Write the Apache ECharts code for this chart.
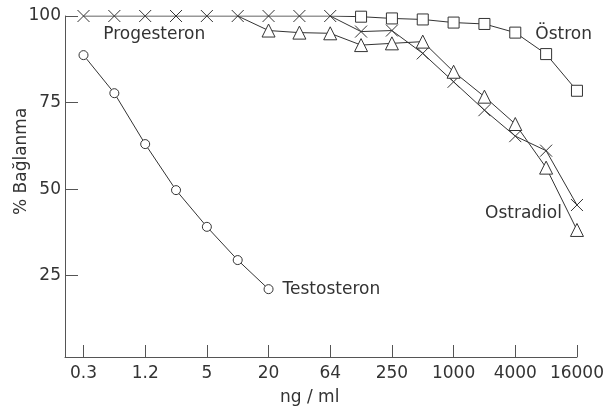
<!DOCTYPE html>
<html><head><meta charset="utf-8">
<script src="https://cdn.jsdelivr.net/npm/echarts@6/dist/echarts.min.js"></script>
<style>html,body{margin:0;padding:0;background:#fff}#c{width:607px;height:412px}</style>
</head><body><div id="c"></div>
<script>
// x positions are steps on a log4 dose scale (0 = 0.3 ng/ml, 8 = 16000 ng/ml)
const doseLabels = ['0.3','1.2','5','20','64','250','1000','4000','16000'];
const labelSteps = [0,1,2,3,4,5,6,7,8];
const steps = [0,0.5,1,1.5,2,2.5,3,3.5,4,4.5,5,5.5,6,6.5,7,7.5,8];
const yTicks = [25,50,75,100];

const testosteron = [88.7,77.7,63,49.7,39.1,29.5,21.1];                 // from step 0
const progesteron = [100,100,100,100,100,100,100,100,100,95.5,95.8,89.2,81,72.8,65.3,61.1,45.4]; // from step 0
const ostradiol   = [100,95.8,95.2,95.0,91.6,92.1,92.6,83.9,76.7,68.8,56.2,38.2]; // from step 2.5
const ostron      = [100,99.8,99.3,99.0,98.1,97.7,95.2,89.0,78.4];      // from step 4

const FONT = 'DejaVu Sans';
const INK = '#333';
const TXT = { show: true, fontFamily: FONT, fontSize: 17, color: INK };

function pairs(values, startIndex, hideFirst, labelAt, labelOpt) {
  return values.map((v, i) => {
    const item = { value: [steps[startIndex + i], v] };
    if (hideFirst && i === 0) item.symbol = 'none';
    if (i === labelAt) item.label = Object.assign({}, TXT, labelOpt);
    return item;
  });
}

function mkSeries(name, data, symbol, size, fill) {
  return {
    name, type: 'line', data, symbol, symbolSize: size,
    lineStyle: { color: INK, width: 1 },
    itemStyle: { color: fill, borderColor: INK, borderWidth: 1 },
    label: { show: false, formatter: '{a}' },
    emphasis: { disabled: true }
  };
}

const chart = echarts.init(document.getElementById('c'));
chart.setOption({
  animation: false,
  grid: { left: 65, right: 28, top: 16, bottom: 55 },
  xAxis: {
    type: 'value', min: -0.3, max: 8,
    axisLine: { onZero: false, lineStyle: { color: '#555', width: 1 } },
    axisTick: { show: true, inside: true, length: 12, customValues: labelSteps },
    axisLabel: {
      customValues: labelSteps, margin: 8,
      formatter: v => doseLabels[Math.round(v)],
      fontFamily: FONT, fontSize: 17, color: INK
    },
    splitLine: { show: false }
  },
  yAxis: {
    type: 'value', min: 1.5, max: 100,
    axisLine: { show: true, onZero: false, lineStyle: { color: '#555', width: 1 } },
    axisTick: { show: true, inside: true, length: 13, customValues: yTicks },
    axisLabel: { customValues: yTicks, margin: 4, fontFamily: FONT, fontSize: 17, color: INK },
    splitLine: { show: false }
  },
  graphic: [
    { type: 'text', left: 280, top: 389, style: { text: 'ng / ml', font: '17px "DejaVu Sans"', fill: INK } },
    { type: 'text', x: 13, y: 215, rotation: Math.PI / 2, style: { text: '% Bağlanma', font: '17px "DejaVu Sans"', fill: INK } }
  ],
  series: [
    mkSeries('Testosteron', pairs(testosteron, 0, false, 6, { position: 'right', distance: 9, offset: [0, 0] }), 'circle', 9, '#fff'),
    mkSeries('Progesteron', pairs(progesteron, 0, false, 2, { position: 'bottom', distance: 4, offset: [9, 0] }), 'path://M0 0L10 10M10 0L0 10', 12, '#fff'),
    mkSeries('Ostradiol', pairs(ostradiol, 5, true, 11, { position: 'left', distance: 8, offset: [0, -16] }), 'triangle', 13, '#fff'),
    mkSeries('Östron', pairs(ostron, 8, true, 6, { position: 'right', distance: 14, offset: [0, 2] }), 'rect', 11, '#fff')
  ]
});
</script></body></html>
